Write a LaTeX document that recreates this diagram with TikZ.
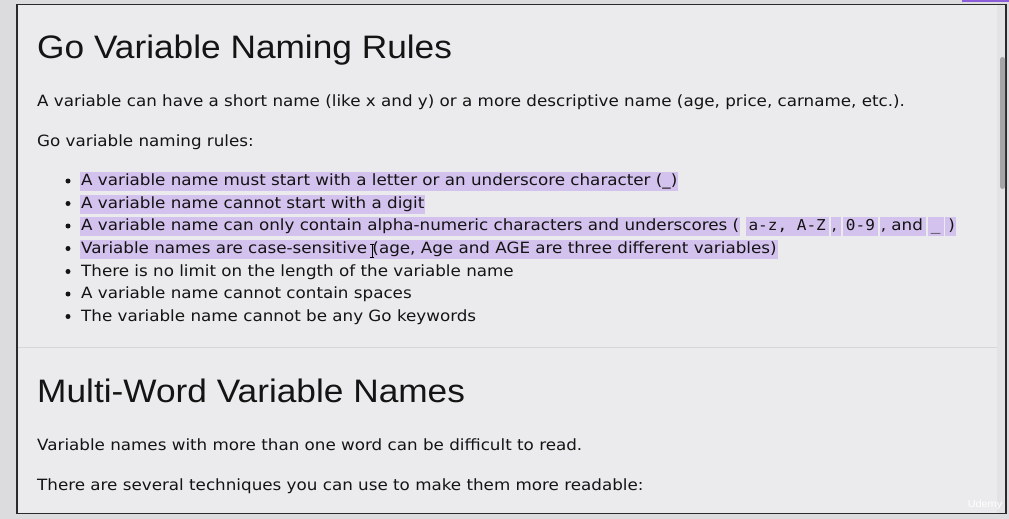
\documentclass[tikz,border=0pt]{standalone}
\usepackage{fontspec}
\setmainfont{DejaVu Sans}
\newfontfamily\bodyfont{DejaVu Sans}[FakeStretch=1.08]
\newfontfamily\headfont{Liberation Sans}[FakeStretch=1.085]
\newfontfamily\codefont{DejaVu Sans Mono}[FakeStretch=1.07]
\definecolor{pagebg}{HTML}{EBEBED}
\definecolor{outer}{HTML}{DCDCDE}
\definecolor{framec}{HTML}{2A2A2A}
\definecolor{hl}{HTML}{D4C2EE}
\definecolor{txt}{HTML}{141414}
\definecolor{sepc}{HTML}{D6D6D8}
\definecolor{thumbc}{HTML}{A5A5A8}
\definecolor{trackc}{HTML}{E3E3E5}
\definecolor{barc}{HTML}{8C5CD9}
\tikzset{
  bodytext/.style={font=\bodyfont\fontsize{15.5}{18}\selectfont, text=txt, inner sep=0pt, anchor=base west},
  headtext/.style={font=\headfont\fontsize{32.5}{36}\selectfont, text=txt, inner sep=0pt, anchor=base west},
  hlt/.style={bodytext, fill=hl, text height=13pt, text depth=5pt, inner ysep=0.5pt, inner xsep=1pt},
  codebox/.style={hlt, font=\codefont\fontsize{15}{18}\selectfont, inner xsep=3pt},
  bul/.style={circle, fill=txt, inner sep=0pt, minimum size=5pt},
}
\begin{document}
\begin{tikzpicture}[x=1pt,y=-1pt]
\useasboundingbox (0,0) rectangle (1009,519);
% outer area and frame
\fill[outer] (0,0) rectangle (1009,519);
\fill[barc] (962,0) rectangle (1009,2.5);
\draw[framec, line width=1.5pt, fill=pagebg] (17,4.5) rectangle (1006,513.5);
% scrollbar
\fill[trackc] (997,5.3) rectangle (1005.2,512.7);
\fill[thumbc, rounded corners=2.5pt] (1000,57) rectangle (1005,189);
% separator
\draw[sepc, line width=0.8pt] (18,347) -- (997,347);
% headings
\node[headtext] (h1) at (37,59) {Go Variable Naming Rules};
\node[headtext] (h2) at (37,402) {Multi-Word Variable Names};
% paragraphs
\node[bodytext] (p1) at (37,106) {A variable can have a short name (like x and y) or a more descriptive name (age, price, carname, etc.).};
\node[bodytext] (p2) at (37,146) {Go variable naming rules:};
\node[bodytext] (p3) at (37,450) {Variable names with more than one word can be difficult to read.};
\node[bodytext] (p4) at (37,490) {There are several techniques you can use to make them more readable:};
% bullets
\node[bul] (b1) at (68,181) {};
\node[bul] (b2) at (68,203.5) {};
\node[bul] (b3) at (68,226) {};
\node[bul] (b4) at (68,248.5) {};
\node[bul] (b5) at (68,271.5) {};
\node[bul] (b6) at (68,294) {};
\node[bul] (b7) at (68,316.5) {};
% list items
\node[hlt] (r1) at (80,185.5) {A variable name must start with a letter or an underscore character (\_)};
\node[hlt] (r2) at (80,208) {A variable name cannot start with a digit};
\node[hlt] (r3a) at (80,230.5) {A variable name can only contain alpha-numeric characters and underscores (};
\node[codebox, anchor=base west] (r3b) at ([xshift=5pt]r3a.base east) {a-z, A-Z};
\node[hlt, anchor=base west] (r3c) at ([xshift=1.5pt]r3b.base east) {,\kern3pt};
\node[codebox, anchor=base west] (r3d) at ([xshift=1.5pt]r3c.base east) {0-9};
\node[hlt, anchor=base west] (r3e) at ([xshift=1.5pt]r3d.base east) {, and\kern2pt};
\node[codebox, anchor=base west] (r3f) at ([xshift=1.5pt]r3e.base east) {\_};
\node[hlt, anchor=base west] (r3g) at ([xshift=1.5pt]r3f.base east) {\kern2pt)};
\node[hlt] (r4) at (80,253) {Variable names are case-sensitive (age, Age and AGE are three different variables)};
\node[bodytext] (r5) at (81,276) {There is no limit on the length of the variable name};
\node[bodytext] (r6) at (81,298.5) {A variable name cannot contain spaces};
\node[bodytext] (r7) at (81,321) {The variable name cannot be any Go keywords};
% text cursor
\draw[black, line width=0.7pt] (372,244) -- (372,257) (370,244) -- (374,244) (370,257) -- (374,257);
% watermark
\node[font=\headfont\fontsize{10}{12}\selectfont, text=white, inner sep=0pt] (wm) at (985,505) {Udemy};
\end{tikzpicture}
\end{document}
